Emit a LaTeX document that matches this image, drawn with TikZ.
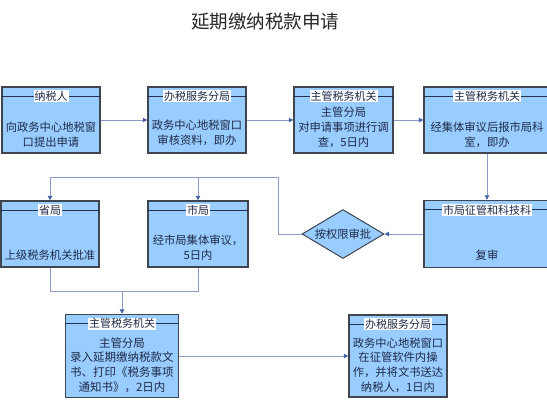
\documentclass[tikz,border=0pt]{standalone}
\usepackage{fontspec}
\newfontfamily\cjk{Noto Sans CJK SC}
\usetikzlibrary{positioning}
\usetikzlibrary{shapes.geometric}
\usetikzlibrary{arrows.meta}
\definecolor{boxfill}{HTML}{99CCFF}
\definecolor{boxedge}{HTML}{3F4650}
\definecolor{headline}{HTML}{24344F}
\definecolor{linkcol}{HTML}{8D9CC6}
\definecolor{tipcol}{HTML}{4664A8}
\definecolor{txtcol}{HTML}{1E2B48}

\begin{document}
\begin{tikzpicture}[x=1pt, y=-1pt,
    box/.style={rectangle, draw=boxedge, line width=1.4pt, fill=boxfill, inner sep=0pt},
    gate/.style={diamond, aspect=1.67, draw=boxedge, line width=1pt, fill=boxfill, inner sep=0pt,
        minimum width=82pt, minimum height=49pt, text=txtcol, font=\cjk\fontsize{11.3}{13}\selectfont},
    head/.style={fill=white, inner sep=1pt, text=txtcol, font=\cjk\fontsize{11}{13}\selectfont},
    body/.style={align=center, inner sep=0pt, text=txtcol, font=\cjk\fontsize{11.3}{15}\selectfont},
    hline/.style={draw=headline, line width=1.2pt},
    link/.style={draw=linkcol, line width=1pt},
    arr/.style={link, -{Triangle[length=4.5pt, width=4.5pt, color=tipcol]}}]
            \path[use as bounding box] (0,0) rectangle (547,400);
            \clip (0,0) rectangle (547,400);

            % Title
            \node[text=black!85, font=\cjk\fontsize{18.5}{20}\selectfont] (title) at (265,22) {延期缴纳税款申请};

            % Row 1
            \node[box, minimum width=98pt, minimum height=66pt] (tax) at (51,120) {};
            \node[box, minimum width=98pt, minimum height=66pt] (office) at (197,120) {};
            \node[box, minimum width=99pt, minimum height=66pt] (branch) at (343.5,120) {};
            \node[box, minimum width=126pt, minimum height=66pt] (board) at (487,120) {};

            % Row 2
            \node[box, minimum width=98pt, minimum height=66pt] (prov) at (50,234) {};
            \node[box, minimum width=100pt, minimum height=66pt] (city) at (198,234) {};
            \node[gate] (grant) at (343,234) {按权限审批};
            \node[box, minimum width=126pt, minimum height=67pt] (review) at (487,234) {};

            % Row 3
            \node[box, minimum width=113pt, minimum height=83pt] (enter) at (122,356) {};
            \node[box, minimum width=98pt, minimum height=82pt] (notify) at (398,356) {};

            % Header lines
            \foreach \b in {tax, office, branch, board, prov, city, review, enter, notify}
                \draw[hline] ([yshift=-10pt]\b.north west) -- ([yshift=-10pt]\b.north east);

            % Header labels
            \node[head] (taxh) at ([yshift=-10pt]tax.north) {纳税人};
            \node[head] (officeh) at ([yshift=-10pt]office.north) {办税服务分局};
            \node[head] (branchh) at ([yshift=-10pt]branch.north) {主管税务机关};
            \node[head] (boardh) at ([yshift=-10pt]board.north) {主管税务机关};
            \node[head] (provh) at ([yshift=-10pt]prov.north) {省局};
            \node[head] (cityh) at ([yshift=-10pt]city.north) {市局};
            \node[head] (reviewh) at ([yshift=-10pt]review.north) {市局征管和科技科};
            \node[head] (enterh) at ([yshift=-10pt]enter.north) {主管税务机关};
            \node[head] (notifyh) at ([yshift=-10pt]notify.north) {办税服务分局};

            % Body texts
            \node[body] (taxb) at (51,134.5) {向政务中心地税窗\\口提出申请};
            \node[body] (officeb) at (197,133) {政务中心地税窗口\\审核资料，即办};
            \node[body] (branchb) at (343.5,127.5) {主管分局\\对申请事项进行调\\查，5日内};
            \node[body] (boardb) at (487,134.5) {经集体审议后报市局科\\室，即办};
            \node[body] (provb) at (50,255) {上级税务机关批准};
            \node[body] (cityb) at (198,248) {经市局集体审议，\\5日内};
            \node[body] (reviewb) at (487,255) {复审};
            \node[body, font=\cjk\fontsize{11.5}{14.7}\selectfont] (enterb) at (122,365) {主管分局\\录入延期缴纳税款文\\书、打印《税务事项\\通知书》，2日内};
            \node[body, font=\cjk\fontsize{11.3}{14.7}\selectfont] (notifyb) at (398,365) {政务中心地税窗口\\在征管软件内操\\作，并将文书送达\\纳税人，1日内};

            % Connectors
            \draw[arr] (tax.east) -- (office.west);
            \draw[arr] (office.east) -- (branch.west);
            \draw[arr] (branch.east) -- (board.west);
            \draw[arr] (board.south) -- (review.north);
            \draw[arr] (review.west) -- (grant.east);

            \coordinate (topbus) at (278,177);
            \draw[arr] (grant.west) -| (topbus) -| (prov.north);
            \draw[arr] (topbus) -| (city.north);

            \coordinate (botbus) at (122,291);
            \draw[link] (prov.south) |- (botbus);
            \draw[link] (city.south) |- (botbus);
            \draw[arr] (botbus) -- (enter.north);

            \draw[arr] (enter.east) -- (notify.west);
        \end{tikzpicture}
\end{document}
